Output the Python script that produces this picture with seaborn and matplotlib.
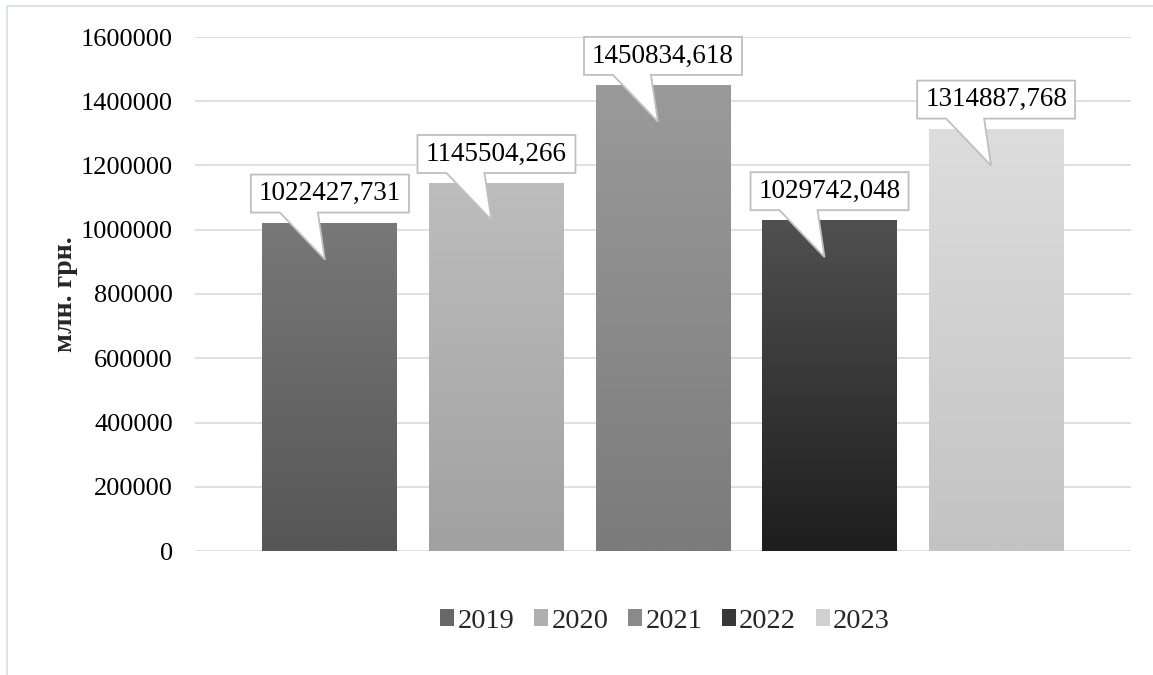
import matplotlib
matplotlib.use("Agg")
import matplotlib.pyplot as plt
from matplotlib.patches import Polygon, Rectangle, Patch
from matplotlib.transforms import ScaledTranslation
import numpy as np
import pandas as pd
import seaborn as sns

# --- data ---
years = ["2019", "2020", "2021", "2022", "2023"]
values = [1022427.731, 1145504.266, 1450834.618, 1029742.048, 1314887.768]
labels = ["1022427,731", "1145504,266", "1450834,618", "1029742,048", "1314887,768"]

# gradient colours per bar (top, bottom)
grad_top = ["#787878", "#bdbdbd", "#9a9a9a", "#505050", "#dddddd"]
grad_bottom = ["#565656", "#a1a1a1", "#7b7b7b", "#1e1e1e", "#c3c3c3"]
legend_colors = ["#676767", "#afafaf", "#8a8a8a", "#373737", "#d0d0d0"]

sns.set_theme(style="white")
plt.rcParams["font.family"] = ["Liberation Serif", "DejaVu Serif"]

W, H, DPI = 1153, 675, 100
fig = plt.figure(figsize=(W / DPI, H / DPI), dpi=DPI)
ax = fig.add_axes([195 / W, 1 - 551 / H, (1131 - 195) / W, (551 - 37) / H])

df = pd.DataFrame({"year": years, "value": values})
sns.barplot(data=df, x="year", y="value", hue="year", palette=legend_colors,
            width=0.81, legend=False, ax=ax, saturation=1)

ax.set_ylim(0, 1600000)
ax.set_xlim(-0.81, 4.81)
ax.set_yticks(np.arange(0, 1600001, 200000))
ax.set_yticklabels([f"{int(v)}" for v in np.arange(0, 1600001, 200000)])
ax.tick_params(axis="y", length=0, pad=16, labelsize=19, labelcolor="black")
ax.set_xticks([])
ax.set_xlabel("")
ax.set_ylabel("млн. грн.", fontsize=20, fontweight="bold")
ax.yaxis.set_label_coords((78 - 195) / (1131 - 195), 0.5)
for s in ax.spines.values():
    s.set_visible(False)
ax.grid(axis="y", color="#dadde2", linewidth=1.3)
ax.set_axisbelow(True)

# gradient fill for each bar
grad = np.linspace(0, 1, 256).reshape(-1, 1)
for i, patch in enumerate(ax.patches[:len(years)]):
    x0, y0 = patch.get_x(), patch.get_y()
    w, h = patch.get_width(), patch.get_height()
    cmap = matplotlib.colors.LinearSegmentedColormap.from_list(
        f"g{i}", [grad_bottom[i], grad_top[i]])
    im = ax.imshow(grad, cmap=cmap, origin="lower", aspect="auto",
                   extent=(x0, x0 + w, y0, y0 + h), zorder=2)
    im.set_clip_path(patch)
    patch.set_facecolor("none")
    patch.set_edgecolor("none")
ax.set_xlim(-0.81, 4.81)
ax.set_ylim(0, 1600000)

# callouts (shape in pixels relative to the bar top)
shape = np.array([
    [-79, 10], [-79, 48], [79, 48], [79, 10], [-12, 10], [-5, -37], [-50, 10]
]) / DPI
for i, (val, txt) in enumerate(zip(values, labels)):
    tr = fig.dpi_scale_trans + ScaledTranslation(i, val, ax.transData)
    poly = Polygon(shape, closed=True, transform=tr, facecolor="white",
                   edgecolor="#bfbfbf", linewidth=1.3, zorder=5, clip_on=False)
    ax.add_patch(poly)
    ax.text(0, 29 / DPI, txt, transform=tr, ha="center", va="center",
            fontsize=19.5, color="black", zorder=6)

# legend, centred under the plot area
handles = [Patch(facecolor=c, edgecolor="none") for c in legend_colors]
fig.legend(handles, years, loc="center", bbox_to_anchor=(665 / W, 1 - 621 / H),
           ncol=5, frameon=False, fontsize=20.5, handlelength=0.5,
           handleheight=0.5, handletextpad=0.12, columnspacing=0.68)

# chart frame (left and top edges visible)
fig.add_artist(Rectangle((7 / W, -0.05), 1.2, 1 - 6 / H + 0.05,
                         transform=fig.transFigure, fill=False,
                         edgecolor="#dfe3e8", linewidth=1.5))

fig.savefig("out.png", dpi=DPI)
